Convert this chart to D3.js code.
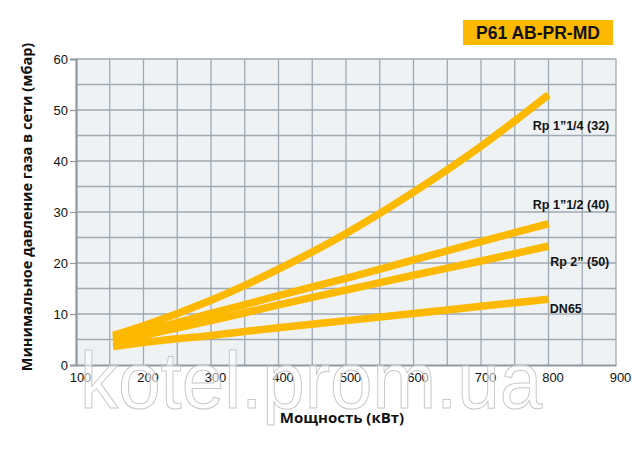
<!DOCTYPE html>
<html>
<head>
<meta charset="utf-8">
<script src="https://cdn.jsdelivr.net/npm/d3@7"></script>
<style>
  html, body { margin: 0; padding: 0; background: #ffffff; }
  svg { display: block; }
</style>
</head>
<body>
<div id="chart"></div>
<script>
// ---- data ----
const powerKW = [155, 200, 300, 400, 500, 600, 700, 800];
const seriesNames = ["Rp 1\u201d1/4 (32)", "Rp 1\u201d1/2 (40)", "Rp 2\u201d (50)", "DN65"];
const rp114 = [5.8, 7.7, 12.7, 18.8, 25.8, 33.9, 42.9, 53.0];
const rp112 = [5.2, 6.6, 10.1, 13.6, 17.0, 20.6, 24.2, 27.7];
const rp2   = [4.5, 5.8, 8.7, 11.8, 14.7, 17.6, 20.4, 23.3];
const dn65  = [3.6, 4.4, 5.8, 7.3, 8.7, 10.1, 11.5, 12.9];
const xTicks = [100, 200, 300, 400, 500, 600, 700, 800, 900];
const yTicks = [0, 10, 20, 30, 40, 50, 60];
const title = "P61 AB-PR-MD";
const xTitle = "\u041c\u043e\u0449\u043d\u043e\u0441\u0442\u044c (\u043a\u0412\u0442)";
const yTitle = "\u041c\u0438\u043d\u0438\u043c\u0430\u043b\u044c\u043d\u043e\u0435 \u0434\u0430\u0432\u043b\u0435\u043d\u0438\u0435 \u0433\u0430\u0437\u0430 \u0432 \u0441\u0435\u0442\u0438 (\u043c\u0431\u0430\u0440)";
const watermark = "kotel.prom.ua";

const allSeries = [rp114, rp112, rp2, dn65];

// ---- layout ----
const W = 640, H = 461;
const L = 76, R = 616, T = 59, B = 365;
const lineColor = "#fdb900";

const svg = d3.select("#chart").append("svg")
  .attr("width", W).attr("height", H);

const x = d3.scaleLinear().domain([100, 900]).range([L, R]);
const y = d3.scaleLinear().domain([0, 60]).range([B, T]);

// plot background
svg.append("rect")
  .attr("x", L).attr("y", T)
  .attr("width", R - L).attr("height", B - T)
  .attr("fill", "#eef2f5");

// grid
const g = svg.append("g");
g.selectAll("line.vx").data(d3.range(150, 901, 50)).enter().append("line")
  .attr("x1", d => x(d)).attr("x2", d => x(d))
  .attr("y1", T).attr("y2", B)
  .attr("stroke", "#9fa9b1").attr("stroke-width", 1.3);
g.selectAll("line.hy").data(d3.range(5, 61, 5)).enter().append("line")
  .attr("x1", L).attr("x2", R)
  .attr("y1", d => y(d)).attr("y2", d => y(d))
  .attr("stroke", "#9fa9b1").attr("stroke-width", 1.3);

// left axis
const yAxis = d3.axisLeft(y).tickValues(yTicks).tickSize(6).tickPadding(2);
const ya = svg.append("g").attr("transform", `translate(${L},0)`).call(yAxis);
ya.select(".domain").attr("stroke", "#8e99a2").attr("stroke-width", 2.2);
ya.selectAll(".tick line").attr("stroke", "#8e99a2").attr("stroke-width", 1.2);
ya.selectAll(".tick text")
  .attr("font-family", "'Liberation Sans', Arial, sans-serif")
  .attr("font-size", 13).attr("fill", "#111");

// bottom axis line
const xAxis = d3.axisBottom(x).tickValues(xTicks).tickSize(0).tickPadding(8);
const xa = svg.append("g").attr("transform", `translate(0,${B})`).call(xAxis);
xa.select(".domain").attr("stroke", "#8e99a2").attr("stroke-width", 2);
xa.selectAll(".tick text")
  .attr("dx", 4)
  .attr("font-family", "'Liberation Sans', Arial, sans-serif")
  .attr("font-size", 13).attr("fill", "#111");

// watermark
svg.append("text")
  .attr("x", x(106)).attr("y", 408)
  .attr("font-family", "'Liberation Sans', Arial, sans-serif")
  .attr("font-size", 80)
  .attr("textLength", 462).attr("lengthAdjust", "spacingAndGlyphs")
  .attr("fill", "#ffffff").attr("fill-opacity", 0.55)
  .attr("stroke", "#c8c8c8").attr("stroke-width", 1)
  .text(watermark);

// lines
const lineGen = d3.line()
  .x((d, i) => x(powerKW[i]))
  .y(d => y(d))
  .curve(d3.curveMonotoneX);

svg.append("g").selectAll("path").data(allSeries).enter().append("path")
  .attr("d", d => lineGen(d))
  .attr("fill", "none")
  .attr("stroke", lineColor)
  .attr("stroke-width", 7.5)
  .attr("stroke-linecap", "butt");

// series labels
const labelPos = [
  {anchor: "end", xv: 890, yv: 46.1},
  {anchor: "end", xv: 890, yv: 30.6},
  {anchor: "end", xv: 890, yv: 19.5},
  {anchor: "start", xv: 802, yv: 10.1}
];
svg.append("g").selectAll("text").data(seriesNames).enter().append("text")
  .attr("x", (d, i) => x(labelPos[i].xv))
  .attr("y", (d, i) => y(labelPos[i].yv))
  .attr("text-anchor", (d, i) => labelPos[i].anchor)
  .attr("font-family", "'Liberation Sans', Arial, sans-serif")
  .attr("font-weight", "bold")
  .attr("font-size", 12.5)
  .attr("fill", "#111")
  .text(d => d);

// title badge
svg.append("rect")
  .attr("x", 463).attr("y", 20).attr("width", 150).attr("height", 25)
  .attr("fill", "#fdb900");
svg.append("text")
  .attr("x", 538).attr("y", 39)
  .attr("text-anchor", "middle")
  .attr("font-family", "'Liberation Sans', Arial, sans-serif")
  .attr("font-weight", "bold")
  .attr("font-size", 17.5)
  .attr("fill", "#111")
  .text(title);

// axis titles
svg.append("text")
  .attr("x", 342).attr("y", 423)
  .attr("text-anchor", "middle")
  .attr("font-family", "'Open Sans', 'DejaVu Sans', sans-serif")
  .attr("font-weight", "bold")
  .attr("font-size", 15)
  .attr("fill", "#111")
  .text(xTitle);

svg.append("text")
  .attr("transform", "translate(32,207) rotate(-90)")
  .attr("text-anchor", "middle")
  .attr("font-family", "'Open Sans', 'DejaVu Sans', sans-serif")
  .attr("font-weight", "bold")
  .attr("font-size", 14.5)
  .attr("fill", "#111")
  .text(yTitle);
</script>
</body>
</html>
